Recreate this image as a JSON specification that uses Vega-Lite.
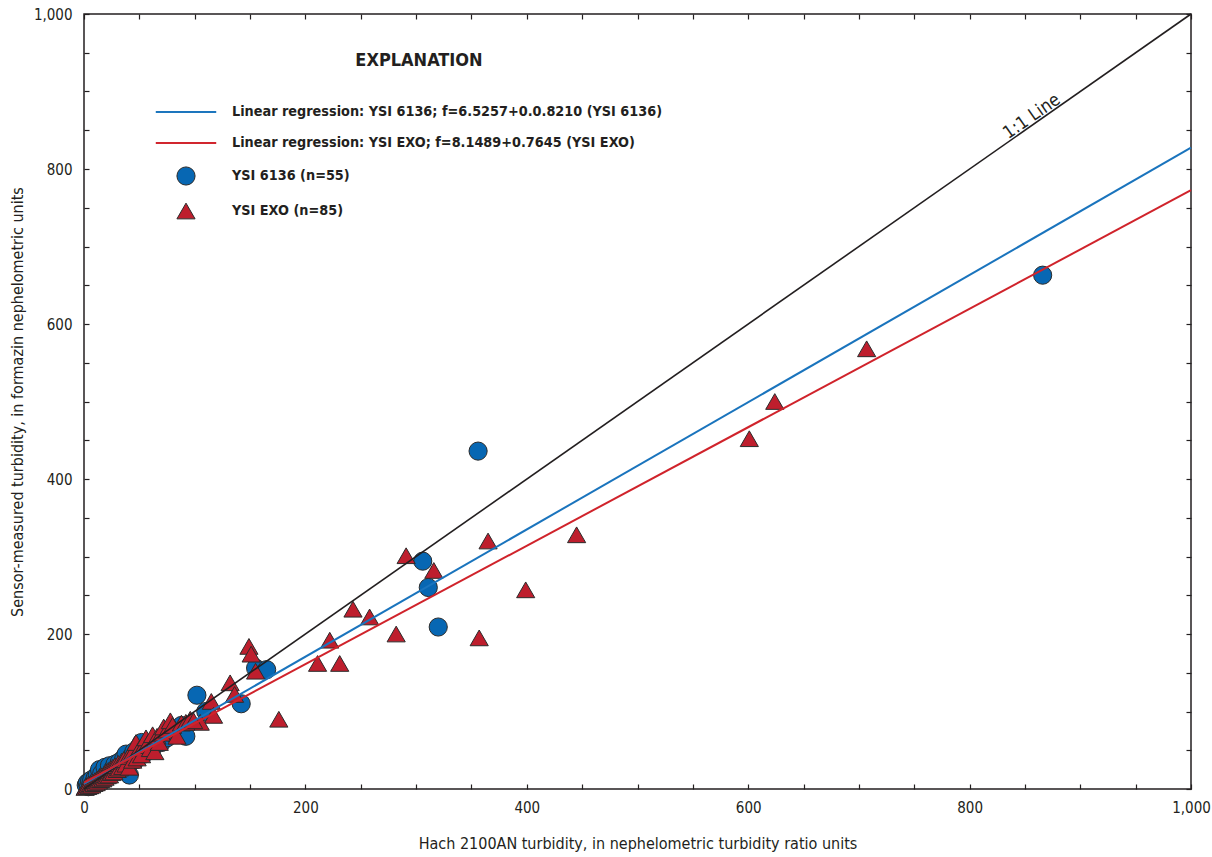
{
  "$schema": "https://vega.github.io/schema/vega-lite/v6.json",
  "width": 1107,
  "height": 775,
  "autosize": "none",
  "padding": {"left": 84, "top": 14, "right": 21, "bottom": 68},
  "background": "white",
  "config": {
    "view": {"stroke": "#231f20", "strokeWidth": 1.5},
    "font": "DejaVu Sans Condensed, sans-serif",
    "legend": {
      "orient": "none", "legendX": 92, "legendY": 38,
      "titleFontSize": 18, "titleFontWeight": "bold", "titleColor": "#231f20",
      "titleAnchor": "middle", "titlePadding": 32,
      "labelFontSize": 14.3, "labelFontWeight": "bold", "labelColor": "#231f20", "labelOffset": 36, "labelLimit": 0,
      "symbolSize": 330, "symbolStrokeWidth": 1, "rowPadding": 13
    }
  },
  "datasets": {
    "points": [
      {"hach": 2, "sensor": 5, "series": "YSI 6136 (n=55)"},
      {"hach": 3, "sensor": 8, "series": "YSI 6136 (n=55)"},
      {"hach": 4, "sensor": 3, "series": "YSI 6136 (n=55)"},
      {"hach": 5, "sensor": 10, "series": "YSI 6136 (n=55)"},
      {"hach": 6, "sensor": 6, "series": "YSI 6136 (n=55)"},
      {"hach": 7, "sensor": 12, "series": "YSI 6136 (n=55)"},
      {"hach": 8, "sensor": 4, "series": "YSI 6136 (n=55)"},
      {"hach": 9, "sensor": 9, "series": "YSI 6136 (n=55)"},
      {"hach": 10, "sensor": 14, "series": "YSI 6136 (n=55)"},
      {"hach": 11, "sensor": 8, "series": "YSI 6136 (n=55)"},
      {"hach": 12, "sensor": 18, "series": "YSI 6136 (n=55)"},
      {"hach": 13, "sensor": 12, "series": "YSI 6136 (n=55)"},
      {"hach": 14, "sensor": 25, "series": "YSI 6136 (n=55)"},
      {"hach": 15, "sensor": 10, "series": "YSI 6136 (n=55)"},
      {"hach": 16, "sensor": 20, "series": "YSI 6136 (n=55)"},
      {"hach": 18, "sensor": 15, "series": "YSI 6136 (n=55)"},
      {"hach": 19, "sensor": 28, "series": "YSI 6136 (n=55)"},
      {"hach": 20, "sensor": 18, "series": "YSI 6136 (n=55)"},
      {"hach": 22, "sensor": 22, "series": "YSI 6136 (n=55)"},
      {"hach": 23, "sensor": 30, "series": "YSI 6136 (n=55)"},
      {"hach": 25, "sensor": 20, "series": "YSI 6136 (n=55)"},
      {"hach": 26, "sensor": 26, "series": "YSI 6136 (n=55)"},
      {"hach": 28, "sensor": 32, "series": "YSI 6136 (n=55)"},
      {"hach": 30, "sensor": 25, "series": "YSI 6136 (n=55)"},
      {"hach": 32, "sensor": 35, "series": "YSI 6136 (n=55)"},
      {"hach": 34, "sensor": 30, "series": "YSI 6136 (n=55)"},
      {"hach": 36, "sensor": 40, "series": "YSI 6136 (n=55)"},
      {"hach": 38, "sensor": 45, "series": "YSI 6136 (n=55)"},
      {"hach": 40, "sensor": 34, "series": "YSI 6136 (n=55)"},
      {"hach": 41, "sensor": 18, "series": "YSI 6136 (n=55)"},
      {"hach": 43, "sensor": 42, "series": "YSI 6136 (n=55)"},
      {"hach": 45, "sensor": 48, "series": "YSI 6136 (n=55)"},
      {"hach": 47, "sensor": 38, "series": "YSI 6136 (n=55)"},
      {"hach": 50, "sensor": 55, "series": "YSI 6136 (n=55)"},
      {"hach": 52, "sensor": 60, "series": "YSI 6136 (n=55)"},
      {"hach": 54, "sensor": 45, "series": "YSI 6136 (n=55)"},
      {"hach": 57, "sensor": 52, "series": "YSI 6136 (n=55)"},
      {"hach": 60, "sensor": 58, "series": "YSI 6136 (n=55)"},
      {"hach": 63, "sensor": 55, "series": "YSI 6136 (n=55)"},
      {"hach": 66, "sensor": 62, "series": "YSI 6136 (n=55)"},
      {"hach": 70, "sensor": 60, "series": "YSI 6136 (n=55)"},
      {"hach": 75, "sensor": 66, "series": "YSI 6136 (n=55)"},
      {"hach": 80, "sensor": 72, "series": "YSI 6136 (n=55)"},
      {"hach": 88, "sensor": 82, "series": "YSI 6136 (n=55)"},
      {"hach": 92, "sensor": 68, "series": "YSI 6136 (n=55)"},
      {"hach": 866, "sensor": 663, "series": "YSI 6136 (n=55)"},
      {"hach": 356, "sensor": 436, "series": "YSI 6136 (n=55)"},
      {"hach": 306, "sensor": 294, "series": "YSI 6136 (n=55)"},
      {"hach": 311, "sensor": 260, "series": "YSI 6136 (n=55)"},
      {"hach": 320, "sensor": 209, "series": "YSI 6136 (n=55)"},
      {"hach": 155, "sensor": 156, "series": "YSI 6136 (n=55)"},
      {"hach": 165, "sensor": 154, "series": "YSI 6136 (n=55)"},
      {"hach": 142, "sensor": 110, "series": "YSI 6136 (n=55)"},
      {"hach": 102, "sensor": 121, "series": "YSI 6136 (n=55)"},
      {"hach": 110, "sensor": 100, "series": "YSI 6136 (n=55)"},
      {"hach": 707, "sensor": 568, "series": "YSI EXO (n=85)"},
      {"hach": 624, "sensor": 500, "series": "YSI EXO (n=85)"},
      {"hach": 601, "sensor": 452, "series": "YSI EXO (n=85)"},
      {"hach": 445, "sensor": 328, "series": "YSI EXO (n=85)"},
      {"hach": 399, "sensor": 257, "series": "YSI EXO (n=85)"},
      {"hach": 365, "sensor": 320, "series": "YSI EXO (n=85)"},
      {"hach": 357, "sensor": 195, "series": "YSI EXO (n=85)"},
      {"hach": 316, "sensor": 282, "series": "YSI EXO (n=85)"},
      {"hach": 291, "sensor": 301, "series": "YSI EXO (n=85)"},
      {"hach": 282, "sensor": 200, "series": "YSI EXO (n=85)"},
      {"hach": 258, "sensor": 222, "series": "YSI EXO (n=85)"},
      {"hach": 243, "sensor": 232, "series": "YSI EXO (n=85)"},
      {"hach": 231, "sensor": 162, "series": "YSI EXO (n=85)"},
      {"hach": 222, "sensor": 192, "series": "YSI EXO (n=85)"},
      {"hach": 211, "sensor": 162, "series": "YSI EXO (n=85)"},
      {"hach": 176, "sensor": 90, "series": "YSI EXO (n=85)"},
      {"hach": 149, "sensor": 184, "series": "YSI EXO (n=85)"},
      {"hach": 151, "sensor": 174, "series": "YSI EXO (n=85)"},
      {"hach": 155, "sensor": 152, "series": "YSI EXO (n=85)"},
      {"hach": 132, "sensor": 137, "series": "YSI EXO (n=85)"},
      {"hach": 136, "sensor": 122, "series": "YSI EXO (n=85)"},
      {"hach": 115, "sensor": 113, "series": "YSI EXO (n=85)"},
      {"hach": 117, "sensor": 95, "series": "YSI EXO (n=85)"},
      {"hach": 105, "sensor": 86, "series": "YSI EXO (n=85)"},
      {"hach": 1, "sensor": 2, "series": "YSI EXO (n=85)"},
      {"hach": 2, "sensor": 4, "series": "YSI EXO (n=85)"},
      {"hach": 3, "sensor": 3, "series": "YSI EXO (n=85)"},
      {"hach": 4, "sensor": 6, "series": "YSI EXO (n=85)"},
      {"hach": 5, "sensor": 4, "series": "YSI EXO (n=85)"},
      {"hach": 6, "sensor": 7, "series": "YSI EXO (n=85)"},
      {"hach": 7, "sensor": 5, "series": "YSI EXO (n=85)"},
      {"hach": 8, "sensor": 9, "series": "YSI EXO (n=85)"},
      {"hach": 9, "sensor": 7, "series": "YSI EXO (n=85)"},
      {"hach": 10, "sensor": 11, "series": "YSI EXO (n=85)"},
      {"hach": 11, "sensor": 8, "series": "YSI EXO (n=85)"},
      {"hach": 12, "sensor": 13, "series": "YSI EXO (n=85)"},
      {"hach": 13, "sensor": 10, "series": "YSI EXO (n=85)"},
      {"hach": 14, "sensor": 15, "series": "YSI EXO (n=85)"},
      {"hach": 15, "sensor": 12, "series": "YSI EXO (n=85)"},
      {"hach": 16, "sensor": 17, "series": "YSI EXO (n=85)"},
      {"hach": 17, "sensor": 13, "series": "YSI EXO (n=85)"},
      {"hach": 18, "sensor": 19, "series": "YSI EXO (n=85)"},
      {"hach": 19, "sensor": 15, "series": "YSI EXO (n=85)"},
      {"hach": 20, "sensor": 22, "series": "YSI EXO (n=85)"},
      {"hach": 21, "sensor": 17, "series": "YSI EXO (n=85)"},
      {"hach": 22, "sensor": 24, "series": "YSI EXO (n=85)"},
      {"hach": 23, "sensor": 18, "series": "YSI EXO (n=85)"},
      {"hach": 24, "sensor": 26, "series": "YSI EXO (n=85)"},
      {"hach": 25, "sensor": 21, "series": "YSI EXO (n=85)"},
      {"hach": 26, "sensor": 28, "series": "YSI EXO (n=85)"},
      {"hach": 27, "sensor": 22, "series": "YSI EXO (n=85)"},
      {"hach": 28, "sensor": 30, "series": "YSI EXO (n=85)"},
      {"hach": 30, "sensor": 25, "series": "YSI EXO (n=85)"},
      {"hach": 31, "sensor": 33, "series": "YSI EXO (n=85)"},
      {"hach": 32, "sensor": 27, "series": "YSI EXO (n=85)"},
      {"hach": 34, "sensor": 36, "series": "YSI EXO (n=85)"},
      {"hach": 35, "sensor": 29, "series": "YSI EXO (n=85)"},
      {"hach": 36, "sensor": 38, "series": "YSI EXO (n=85)"},
      {"hach": 38, "sensor": 32, "series": "YSI EXO (n=85)"},
      {"hach": 40, "sensor": 42, "series": "YSI EXO (n=85)"},
      {"hach": 41, "sensor": 28, "series": "YSI EXO (n=85)"},
      {"hach": 43, "sensor": 45, "series": "YSI EXO (n=85)"},
      {"hach": 44, "sensor": 37, "series": "YSI EXO (n=85)"},
      {"hach": 47, "sensor": 60, "series": "YSI EXO (n=85)"},
      {"hach": 48, "sensor": 40, "series": "YSI EXO (n=85)"},
      {"hach": 50, "sensor": 52, "series": "YSI EXO (n=85)"},
      {"hach": 52, "sensor": 44, "series": "YSI EXO (n=85)"},
      {"hach": 54, "sensor": 56, "series": "YSI EXO (n=85)"},
      {"hach": 56, "sensor": 66, "series": "YSI EXO (n=85)"},
      {"hach": 58, "sensor": 60, "series": "YSI EXO (n=85)"},
      {"hach": 60, "sensor": 52, "series": "YSI EXO (n=85)"},
      {"hach": 62, "sensor": 70, "series": "YSI EXO (n=85)"},
      {"hach": 64, "sensor": 48, "series": "YSI EXO (n=85)"},
      {"hach": 66, "sensor": 68, "series": "YSI EXO (n=85)"},
      {"hach": 68, "sensor": 60, "series": "YSI EXO (n=85)"},
      {"hach": 70, "sensor": 72, "series": "YSI EXO (n=85)"},
      {"hach": 72, "sensor": 80, "series": "YSI EXO (n=85)"},
      {"hach": 75, "sensor": 76, "series": "YSI EXO (n=85)"},
      {"hach": 78, "sensor": 88, "series": "YSI EXO (n=85)"},
      {"hach": 80, "sensor": 82, "series": "YSI EXO (n=85)"},
      {"hach": 84, "sensor": 68, "series": "YSI EXO (n=85)"},
      {"hach": 88, "sensor": 85, "series": "YSI EXO (n=85)"},
      {"hach": 92, "sensor": 86, "series": "YSI EXO (n=85)"},
      {"hach": 96, "sensor": 90, "series": "YSI EXO (n=85)"},
      {"hach": 99, "sensor": 88, "series": "YSI EXO (n=85)"}
    ],
    "reg": [
      {"hach": 0, "sensor": 6.5257, "series": "Linear regression: YSI 6136; f=6.5257+0.0.8210 (YSI 6136)"},
      {"hach": 1000, "sensor": 827.5, "series": "Linear regression: YSI 6136; f=6.5257+0.0.8210 (YSI 6136)"},
      {"hach": 0, "sensor": 8.1489, "series": "Linear regression: YSI EXO; f=8.1489+0.7645 (YSI EXO)"},
      {"hach": 1000, "sensor": 772.6, "series": "Linear regression: YSI EXO; f=8.1489+0.7645 (YSI EXO)"}
    ],
    "one": [
      {"hach": 0, "sensor": 0},
      {"hach": 1000, "sensor": 1000}
    ],
    "lbl": [
      {"hach": 860, "sensor": 860, "label": "1:1 Line"}
    ]
  },
  "resolve": {"axis": {"x": "independent", "y": "independent"}},
  "layer": [
    {
      "data": {"name": "points"},
      "mark": {"type": "point", "filled": true, "opacity": 1, "strokeWidth": 1, "size": 330},
      "encoding": {
        "x": {
          "field": "hach", "type": "quantitative",
          "scale": {"domain": [0, 1000], "nice": false, "zero": true},
          "axis": {
            "orient": "bottom",
            "values": [0,50,100,150,200,250,300,350,400,450,500,550,600,650,700,750,800,850,900,950,1000],
            "domain": false, "grid": false,
            "tickSize": -5, "tickColor": "#231f20", "tickWidth": 1.2,
            "labelExpr": "datum.value % 200 === 0 ? format(datum.value, ',') : ''",
            "labelFontSize": 15, "labelColor": "#231f20", "labelPadding": 16,
            "labelFlush": false, "labelOverlap": false,
            "title": "Hach 2100AN turbidity, in nephelometric turbidity ratio units",
            "titleFontSize": 16, "titleFontWeight": "normal", "titleColor": "#231f20", "titlePadding": 20,
            "encode": {"ticks": {"update": {"y2": {"signal": "datum.value % 200 === 0 ? -8 : -5"}}}}
          }
        },
        "y": {
          "field": "sensor", "type": "quantitative",
          "scale": {"domain": [0, 1000], "nice": false, "zero": true},
          "axis": {
            "orient": "left",
            "values": [0,50,100,150,200,250,300,350,400,450,500,550,600,650,700,750,800,850,900,950,1000],
            "domain": false, "grid": false,
            "tickSize": -5, "tickColor": "#231f20", "tickWidth": 1.2,
            "labelExpr": "datum.value % 200 === 0 ? format(datum.value, ',') : ''",
            "labelFontSize": 15, "labelColor": "#231f20", "labelPadding": 17,
            "labelFlush": false, "labelOverlap": false,
            "title": "Sensor-measured turbidity, in formazin nephelometric units",
            "titleFontSize": 16, "titleFontWeight": "normal", "titleColor": "#231f20", "titlePadding": 8,
            "encode": {"ticks": {"update": {"x2": {"signal": "datum.value % 200 === 0 ? 8 : 5"}}}}
          }
        },
        "fill": {
          "field": "series", "type": "nominal",
          "scale": {
            "domain": ["Linear regression: YSI 6136; f=6.5257+0.0.8210 (YSI 6136)", "Linear regression: YSI EXO; f=8.1489+0.7645 (YSI EXO)", "YSI 6136 (n=55)", "YSI EXO (n=85)"],
            "range": ["#1a74bd", "#d0232b", "#0767b3", "#be1e2d"]
          },
          "legend": {"title": "EXPLANATION"}
        },
        "stroke": {
          "field": "series", "type": "nominal",
          "scale": {
            "domain": ["Linear regression: YSI 6136; f=6.5257+0.0.8210 (YSI 6136)", "Linear regression: YSI EXO; f=8.1489+0.7645 (YSI EXO)", "YSI 6136 (n=55)", "YSI EXO (n=85)"],
            "range": ["#1a74bd", "#d0232b", "#2b2b2b", "#2b2b2b"]
          },
          "legend": {"title": "EXPLANATION"}
        },
        "shape": {
          "field": "series", "type": "nominal",
          "scale": {
            "domain": ["Linear regression: YSI 6136; f=6.5257+0.0.8210 (YSI 6136)", "Linear regression: YSI EXO; f=8.1489+0.7645 (YSI EXO)", "YSI 6136 (n=55)", "YSI EXO (n=85)"],
            "range": ["M-3.3,-0.05L3.3,-0.05L3.3,0.05L-3.3,0.05Z", "M-3.3,-0.05L3.3,-0.05L3.3,0.05L-3.3,0.05Z", "circle", "triangle-up"]
          },
          "legend": {"title": "EXPLANATION"}
        }
      }
    },
    {
      "data": {"name": "one"},
      "mark": {"type": "line", "color": "#231f20", "strokeWidth": 1.6},
      "encoding": {
        "x": {
          "field": "hach", "type": "quantitative",
          "scale": {"domain": [0, 1000], "nice": false},
          "axis": {
            "orient": "top",
            "values": [0,50,100,150,200,250,300,350,400,450,500,550,600,650,700,750,800,850,900,950,1000],
            "domain": false, "grid": false, "labels": false, "title": null,
            "tickSize": -5, "tickColor": "#231f20", "tickWidth": 1.2,
            "encode": {"ticks": {"update": {"y2": {"signal": "datum.value % 200 === 0 ? 8 : 5"}}}}
          }
        },
        "y": {
          "field": "sensor", "type": "quantitative",
          "scale": {"domain": [0, 1000], "nice": false},
          "axis": {
            "orient": "right",
            "values": [0,50,100,150,200,250,300,350,400,450,500,550,600,650,700,750,800,850,900,950,1000],
            "domain": false, "grid": false, "labels": false, "title": null,
            "tickSize": -5, "tickColor": "#231f20", "tickWidth": 1.2,
            "encode": {"ticks": {"update": {"x2": {"signal": "datum.value % 200 === 0 ? -8 : -5"}}}}
          }
        }
      }
    },
    {
      "data": {"name": "reg"},
      "mark": {"type": "line", "strokeWidth": 2},
      "encoding": {
        "x": {"field": "hach", "type": "quantitative", "axis": null},
        "y": {"field": "sensor", "type": "quantitative", "axis": null},
        "stroke": {
          "field": "series", "type": "nominal",
          "scale": {
            "domain": ["Linear regression: YSI 6136; f=6.5257+0.0.8210 (YSI 6136)", "Linear regression: YSI EXO; f=8.1489+0.7645 (YSI EXO)", "YSI 6136 (n=55)", "YSI EXO (n=85)"],
            "range": ["#1a74bd", "#d0232b", "#2b2b2b", "#2b2b2b"]
          },
          "legend": {"title": "EXPLANATION"}
        }
      }
    },
    {
      "data": {"name": "lbl"},
      "mark": {"type": "text", "angle": -35, "align": "center", "baseline": "alphabetic", "dy": -2, "fontSize": 18, "color": "#231f20"},
      "encoding": {
        "x": {"field": "hach", "type": "quantitative", "axis": null},
        "y": {"field": "sensor", "type": "quantitative", "axis": null},
        "text": {"field": "label"}
      }
    }
  ]
}
